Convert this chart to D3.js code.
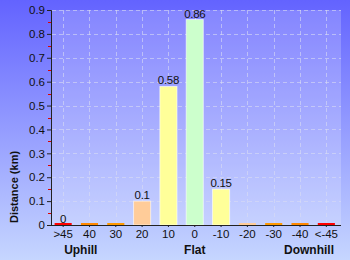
<!DOCTYPE html>
<html><head><meta charset="utf-8">
<script src="https://cdn.jsdelivr.net/npm/d3@7"></script>
<style>html,body{margin:0;padding:0;background:#fff}svg{display:block}</style>
</head><body>
<script>
const categories = [">45","40","30","20","10","0","-10","-20","-30","-40","<-45"];
const values = [0,0,0,0.1,0.58,0.86,0.15,0,0,0,0];
const valueLabels = ["0","","","0.1","0.58","0.86","0.15","","","",""];
const barColors = ["#ff0000","#ff8800","#ff9900","#ffcc99","#ffff99","#ccffcc","#ffff99","#ffcc99","#ff9900","#ff8800","#ff0000"];
const yTicks = [0,0.1,0.2,0.3,0.4,0.5,0.6,0.7,0.8,0.9];
const groupLabels = ["Uphill","Flat","Downhill"];
const groupAnchors = [">45","0","<-45"];
const groupShift = [0.67,0,-0.66];

(function(){
const W=350,H=260;
const svg=d3.select("body").append("svg").attr("width",W).attr("height",H);
const defs=svg.append("defs");
const g1=defs.append("linearGradient").attr("id","bg").attr("x1",0).attr("y1",0).attr("x2",0).attr("y2",1);
g1.append("stop").attr("offset","0%").attr("stop-color","#6363ff");
g1.append("stop").attr("offset","100%").attr("stop-color","#c6d6ff");
svg.append("rect").attr("width",W).attr("height",H).attr("fill","url(#bg)");

const pL=51,pR=341,pT=10,pB=225;
const x=d3.scaleBand().domain(categories).range([50,339.5]).paddingInner(0.35).paddingOuter(0.175);
const y=d3.scaleLinear().domain([0,0.9]).range([pB,pT]);
const cxOf=c=>x(c)+x.bandwidth()/2;

svg.append("rect").attr("x",pL+1).attr("y",pT).attr("width",pR-pL-1).attr("height",pB-pT)
  .attr("fill","#ffffff").attr("opacity",0.2);

// grid
const grid=svg.append("g").attr("stroke","#d8dcf4").attr("stroke-opacity",0.6).attr("stroke-dasharray","4,3").attr("stroke-width",1);
yTicks.forEach(t=>{ if(t>0) grid.append("line").attr("x1",pL+1).attr("x2",pR).attr("y1",Math.round(y(t))+0.5).attr("y2",Math.round(y(t))+0.5);});
categories.forEach(c=>{const cx=Math.round(cxOf(c))+0.5; grid.append("line").attr("x1",cx).attr("x2",cx).attr("y1",pT).attr("y2",pB);});

// bars
svg.append("g").selectAll("rect").data(categories).join("rect")
  .attr("x",(c)=>x(c)).attr("width",x.bandwidth())
  .attr("y",(c,i)=>Math.min(y(values[i]),pB-2))
  .attr("height",(c,i)=>Math.max(pB-y(values[i]),2))
  .attr("fill",(c,i)=>barColors[i])
  .attr("stroke",(c,i)=>values[i]>0?"#ffffff":"none").attr("stroke-opacity",0.6).attr("stroke-width",1);

// value labels
svg.append("g").selectAll("text").data(categories).join("text")
  .attr("x",c=>cxOf(c)).attr("y",(c,i)=>y(values[i])-2)
  .attr("text-anchor","middle").attr("font-family","Liberation Sans, Arial, sans-serif").attr("font-size",11.5)
  .attr("fill","#111").attr("letter-spacing","-0.3")
  .text((c,i)=>valueLabels[i]);

// y axis
const yAxis=d3.axisLeft(y).tickValues(yTicks).tickSize(4).tickPadding(2).tickFormat(d=>d===0?"0":d3.format(".1f")(d));
const ya=svg.append("g").attr("transform",`translate(${pL},0)`).call(yAxis);
ya.selectAll("text").attr("font-family","Liberation Sans, Arial, sans-serif").attr("font-size",11.5).attr("fill","#111");
ya.select(".domain").attr("stroke","#222");
ya.selectAll(".tick line").attr("stroke","#222");
// minor ticks
const minors=d3.range(0.05,0.9,0.1);
svg.append("g").selectAll("line").data(minors).join("line")
  .attr("x1",pL-3).attr("x2",pL).attr("y1",d=>Math.round(y(d))+0.5).attr("y2",d=>Math.round(y(d))+0.5)
  .attr("stroke","#dd0000");

// x axis
const xAxis=d3.axisBottom(x).tickSize(2).tickPadding(3).tickSizeOuter(0);
const xa=svg.append("g").attr("transform",`translate(0,${pB})`).call(xAxis);
xa.select(".domain").attr("d",`M${pL},0.5H${pR}`).attr("stroke","#222");
xa.selectAll(".tick line").attr("stroke","#222");
xa.selectAll("text").attr("font-family","Liberation Sans, Arial, sans-serif").attr("font-size",11.5).attr("fill","#111");

// group labels
const step=x.step();
groupLabels.forEach((t,i)=>{
  svg.append("text").attr("x",cxOf(groupAnchors[i])+groupShift[i]*step).attr("y",254).attr("text-anchor","middle")
    .attr("font-family","Liberation Sans, Arial, sans-serif").attr("font-weight","bold").attr("font-size",12)
    .attr("fill","#111").text(t);
});

// y title
svg.append("text").attr("transform","translate(18,187) rotate(-90)").attr("text-anchor","middle")
  .attr("font-family","Liberation Sans, Arial, sans-serif").attr("font-weight","bold").attr("font-size",11)
  .attr("fill","#111").text("Distance (km)");
})();
</script>
</body></html>
